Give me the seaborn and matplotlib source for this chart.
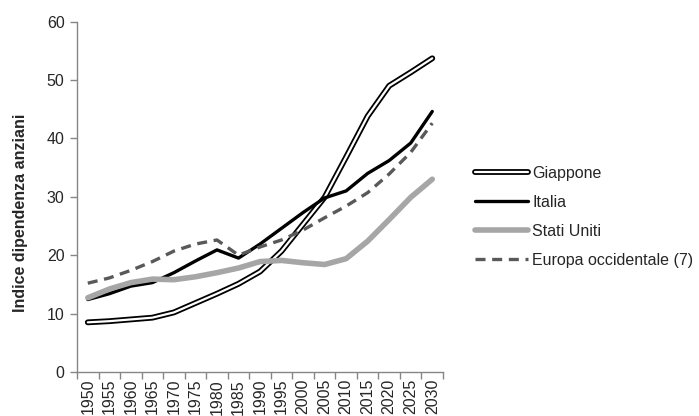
import matplotlib
matplotlib.use("Agg")
import matplotlib.pyplot as plt
import seaborn as sns
import pandas as pd
from matplotlib.lines import Line2D
from matplotlib.legend_handler import HandlerTuple
from matplotlib.ticker import FixedLocator, NullFormatter

# Old-age dependency ratio by area, 1950-2030
anni = ["1950", "1955", "1960", "1965", "1970", "1975", "1980", "1985", "1990",
        "1995", "2000", "2005", "2010", "2015", "2020", "2025", "2030"]
giappone = [8.5, 8.7, 9.0, 9.3, 10.2, 11.8, 13.4, 15.1, 17.2, 20.7, 25.3, 29.9,
            36.8, 43.8, 49.0, 51.3, 53.7]
italia = [12.4, 13.4, 14.7, 15.3, 17.0, 19.0, 20.9, 19.5, 21.9, 24.6, 27.3, 29.8,
          31.0, 34.0, 36.2, 39.2, 44.6]
stati_uniti = [12.7, 14.2, 15.3, 15.9, 15.8, 16.3, 17.0, 17.8, 18.9, 19.1, 18.7,
               18.4, 19.4, 22.4, 26.1, 29.9, 33.0]
europa_occ = [15.2, 16.1, 17.4, 18.9, 20.7, 21.9, 22.6, 20.0, 21.4, 22.6, 24.3,
              26.4, 28.4, 30.7, 33.9, 37.6, 42.6]
serie = ["Giappone", "Italia", "Stati Uniti", "Europa occidentale (7)"]

sns.set_style("white")
plt.rcParams["font.family"] = ["Liberation Sans", "DejaVu Sans"]
FS = 11.5

pos = list(range(len(anni)))
df = pd.concat([
    pd.DataFrame({"pos": pos, "valore": v, "serie": s})
    for s, v in zip(serie, [giappone, italia, stati_uniti, europa_occ])
])

fig = plt.figure(figsize=(6.99, 4.16), dpi=100)
ax = fig.add_axes([0.1102, 0.1058, 0.5236, 0.8425])

def sub(name):
    return df[df["serie"] == name]

# Japan: double line (black outline, white core)
sns.lineplot(data=sub("Giappone"), x="pos", y="valore", ax=ax, color="black",
             lw=4.2, legend=False)
sns.lineplot(data=sub("Giappone"), x="pos", y="valore", ax=ax, color="white",
             lw=1.6, legend=False)
sns.lineplot(data=sub("Italia"), x="pos", y="valore", ax=ax, color="black",
             lw=2.4, legend=False)
sns.lineplot(data=sub("Stati Uniti"), x="pos", y="valore", ax=ax,
             color="#a6a6a6", lw=4.0, legend=False)
sns.lineplot(data=sub("Europa occidentale (7)"), x="pos", y="valore", ax=ax,
             color="#595959", lw=2.4, legend=False, dashes=False)
ax.lines[-1].set_dashes([3.0, 2.0])

ax.set_xlim(-0.5, len(anni) - 0.5)
ax.set_ylim(0, 60)
ax.set_yticks(range(0, 61, 10))
ax.tick_params(axis="y", labelsize=FS, length=5, width=1, color="#868686",
               direction="out", pad=4, left=True)

# Category axis: tick marks between categories, labels centred
ax.xaxis.set_major_locator(FixedLocator([p - 0.5 for p in pos] + [len(anni) - 0.5]))
ax.xaxis.set_major_formatter(NullFormatter())
ax.xaxis.set_minor_locator(FixedLocator(pos))
ax.set_xticklabels(anni, minor=True, rotation=90, fontsize=FS)
ax.tick_params(axis="x", which="major", length=5, width=1, color="#868686",
               direction="out", bottom=True)
ax.tick_params(axis="x", which="minor", length=0, pad=5)

for side in ["top", "right"]:
    ax.spines[side].set_visible(False)
for side in ["left", "bottom"]:
    ax.spines[side].set_color("#868686")
    ax.spines[side].set_linewidth(1.0)

ax.set_xlabel("")
ax.set_ylabel("Indice dipendenza anziani", fontsize=FS, fontweight="bold")
ax.yaxis.set_label_coords(-0.135, 0.455)

h_jp = (Line2D([], [], color="black", lw=4.2), Line2D([], [], color="white", lw=1.6))
h_it = Line2D([], [], color="black", lw=2.4)
h_us = Line2D([], [], color="#a6a6a6", lw=4.0)
h_eu = Line2D([], [], color="#595959", lw=2.4, dashes=[3.0, 2.0])
fig.legend([h_jp, h_it, h_us, h_eu], serie,
           handler_map={tuple: HandlerTuple(ndivide=1)},
           loc="upper left", bbox_to_anchor=(0.6795, 0.602), frameon=False,
           fontsize=FS, handlelength=3.3, handletextpad=0.3,
           labelspacing=0.88, borderpad=0, borderaxespad=0)

fig.savefig("out.png", dpi=100)
